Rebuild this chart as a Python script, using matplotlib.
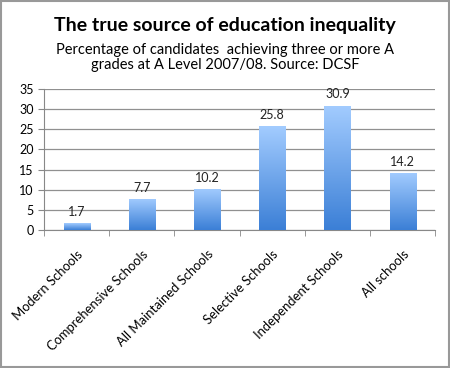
import matplotlib.pyplot as plt
import numpy as np
from matplotlib.colors import LinearSegmentedColormap

categories = ["Modern Schools", "Comprehensive Schools", "All Maintained Schools",
              "Selective Schools", "Independent Schools", "All schools"]
values = [1.7, 7.7, 10.2, 25.8, 30.9, 14.2]
yticks = [0, 5, 10, 15, 20, 25, 30, 35]

plt.rcParams['font.family'] = ['Lato', 'DejaVu Sans']

fig = plt.figure(figsize=(4.5, 3.68), dpi=100)
ax = fig.add_axes([0.098, 0.375, 0.869, 0.383])

x = np.arange(len(categories))
bars = ax.bar(x, values, width=0.4, color='none', edgecolor='none', zorder=3)

# vertical gradient fill, clipped to each bar
cmap = LinearSegmentedColormap.from_list("blues", ["#3b7fd6", "#a3ccff"])
grad = np.linspace(0, 1, 256).reshape(-1, 1)
for b in bars:
    x0, y0 = b.get_x(), b.get_y()
    w, h = b.get_width(), b.get_height()
    im = ax.imshow(grad, cmap=cmap, origin='lower', aspect='auto',
                   extent=[x0, x0 + w, y0, y0 + h], zorder=3)
    im.set_clip_path(b)

for xi, v in zip(x, values):
    ax.text(xi, v + 1.3, f"{v}", ha='center', va='bottom', fontsize=9, color='#222222')

ax.set_xlim(-0.5, len(categories) - 0.5)
ax.set_ylim(0, 35)
ax.set_yticks(yticks)
ax.set_yticklabels([str(t) for t in yticks], fontsize=9)
ax.yaxis.grid(True, color='#909090', linewidth=0.9, zorder=0)
ax.set_axisbelow(True)

ax.set_xticks(x)
ax.set_xticklabels(categories, rotation=45, ha='right', rotation_mode='anchor', fontsize=9.4)
ax.tick_params(axis='x', length=0, pad=13)
ax.set_xticks(np.arange(-0.5, len(categories)), minor=True)
ax.tick_params(axis='x', which='minor', length=4, color='#888888', direction='out')
ax.tick_params(axis='y', length=4, color='#888888', direction='out')

for s in ['top', 'right']:
    ax.spines[s].set_visible(False)
for s in ['left', 'bottom']:
    ax.spines[s].set_color('#888888')

fig.text(0.5, 0.932, "The true source of education inequality", ha='center', va='center',
         fontsize=14, fontweight='bold')
fig.text(0.5, 0.844, "Percentage of candidates  achieving three or more A\ngrades at A Level 2007/08. Source: DCSF",
         ha='center', va='center', fontsize=10.5, linespacing=1.05)

fig.patches.append(plt.Rectangle((0.003, 0.003), 0.994, 0.994, transform=fig.transFigure,
                                 fill=False, edgecolor='#999999', linewidth=1.5))

fig.savefig("out.png", dpi=100)
